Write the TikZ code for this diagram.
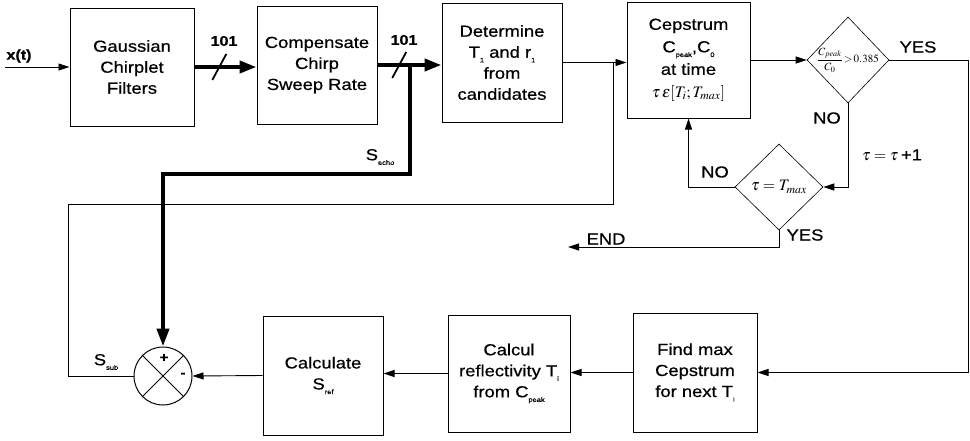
\documentclass[tikz,border=0pt]{standalone}
\usepackage{amsmath}
\usepackage{mathptmx}
\usepackage{fontspec}
\setmainfont{Liberation Sans}[FakeStretch=1.15,FakeBold=0.6]
\usetikzlibrary{arrows.meta,shapes.geometric,calc}
\newcommand{\lo}[1]{\raisebox{-.55ex}{\fontsize{6.5}{7}\selectfont #1}}
\tikzset{
 flow box/.style={draw,line width=1pt,minimum width=122pt,minimum height=118pt,
                  inner sep=2pt,align=center,font=\fontsize{16}{21}\selectfont},
 flow test/.style={draw,diamond,line width=.6pt,inner sep=0pt},
 flow sum/.style={draw,circle,line width=1pt,minimum size=58pt,inner sep=0pt},
 flow line/.style={line width=.9pt},
 flow arrow/.style={line width=.9pt,-{Triangle[length=11pt,width=7pt]}},
 flow bus/.style={line width=4pt,-{Triangle[length=17pt,width=12pt]}},
 flow slash/.style={line width=1.8pt},
 flow label/.style={font=\fontsize{16}{18}\selectfont},
 flow bold/.style={font=\bfseries\fontsize{14}{16}\selectfont}
}
\begin{document}
\begin{tikzpicture}[x=1pt,y=-1pt]
 \useasboundingbox (0,0) rectangle (970,440);
 % upper chain
 \node[flow box,minimum width=124pt] (gauss) at (132,67) {Gaussian\\Chirplet\\Filters};
 \node[flow box,minimum width=120pt] (comp) at (317,65) {Compensate\\Chirp\\Sweep Rate};
 \node[flow box,minimum width=120pt,minimum height=119pt] (det) at (502,62.5)
   {Determine\\T\lo{1} and r\lo{1}\\from\\candidates};
 \node[flow box,minimum width=123pt,minimum height=116pt,font=\fontsize{16}{22.5}\selectfont]
   (ceps) at (688.5,60) {Cepstrum\\C\lo{peak},C\lo{0}\\at time\\$\tau\,\epsilon[T_i;T_{max}]$};
 % tests
 \node[flow test,minimum width=82pt,minimum height=86pt,
   label={[font=\fontsize{11}{13}\selectfont]center:$\dfrac{C_{peak}}{C_0}\!>\!0.385$}]
   (test1) at (848,60) {};
 \node[flow test,minimum width=88pt,minimum height=86pt,
   label={[font=\fontsize{16}{18}\selectfont]center:$\tau=T_{max}$}]
   (test2) at (779,187) {};
 % lower chain
 \node[flow box,minimum width=120pt,minimum height=119pt] (sref) at (323,375.5) {Calculate\\S\lo{ref}};
 \node[flow box,minimum width=122pt,minimum height=117pt] (refl) at (509,373.5)
   {Calcul\\reflectivity T\lo{i}\\from C\lo{peak}};
 \node[flow box,minimum width=124pt,minimum height=119pt] (fmax) at (695,372.5)
   {Find max\\Cepstrum\\for next T\lo{i}};
 \node[flow sum] (sum) at (163,376) {};
 \draw[flow line] (sum.north west) -- (sum.south east) (sum.north east) -- (sum.south west);
 \node[font=\bfseries\fontsize{13}{13}\selectfont] (plus) at (164,358) {+};
 \node[font=\bfseries\fontsize{13}{13}\selectfont] (minus) at (183,375) {-};
 % input and buses
 \coordinate (xin) at (5,67);
 \draw[flow arrow] (xin) -- (gauss.west);
 \node[flow bold] (xlabel) at (19,56) {x(t)};
 \draw[flow bus] (gauss.east) -- (comp.west |- gauss.east);
 \coordinate (bus1 mid) at ($(gauss.east)!.4!(comp.west |- gauss.east)$);
 \draw[flow slash] (bus1 mid) +(-7,13) -- +(7,-13);
 \node[flow bold] (bus1 n) at (224,41) {101};
 \draw[flow bus] (comp.east) -- (det.west |- comp.east);
 \coordinate (bus2 mid) at ($(comp.east)!.34!(det.west |- comp.east)$);
 \draw[flow slash] (bus2 mid) +(-7,13) -- +(7,-13);
 \node[flow bold] (bus2 n) at (404,40) {101};
 % feedback of the first estimate
 \draw[flow arrow] (det.east) -- (ceps.west |- det.east);
 \coordinate (fb split) at (613,62.5);
 \coordinate (fb corner) at (68,204);
 \draw[flow line] (fb split) |- (fb corner) |- (sum.west);
 \node[flow label] (ssub) at (106,362) {S\lo{sub}};
 % echo path
 \coordinate (echo split) at ($(comp.east)!.5!(det.west |- comp.east)$);
 \coordinate (echo knee) at (163,174);
 \draw[line width=4pt,-{Triangle[length=18pt,width=12pt]}] (echo split) |- (echo knee) -- (sum.north);
 \node[flow label] (secho) at (380,157) {S\lo{echo}};
 % tests and loop
 \draw[flow arrow] (ceps.east) -- (test1.west);
 \coordinate (yes top) at (968,60);
 \draw[flow arrow] (test1.east) -- (yes top) |- (fmax.east);
 \node[flow label] (yes1) at (918,47) {YES};
 \draw[flow arrow] (test1.south) |- (test2.east);
 \node[flow label] (no1) at (827,118) {NO};
 \node[flow label] (incr) at (892,155) {$\tau=\tau$\,+1};
 \draw[flow arrow] (test2.west) -| (ceps.south);
 \node[flow label] (no2) at (715,172) {NO};
 \coordinate (end tip) at (568,247);
 \draw[flow arrow] (test2.south) |- (end tip);
 \node[flow label] (yes2) at (805,235) {YES};
 \node[flow label] (endl) at (606,239) {END};
 % lower arrows
 \draw[flow arrow] (fmax.west) -- (refl.east |- fmax.west);
 \draw[flow arrow] (refl.west) -- (sref.east |- refl.west);
 \draw[flow arrow] (sref.west) -- (sum.east);
\end{tikzpicture}
\end{document}
